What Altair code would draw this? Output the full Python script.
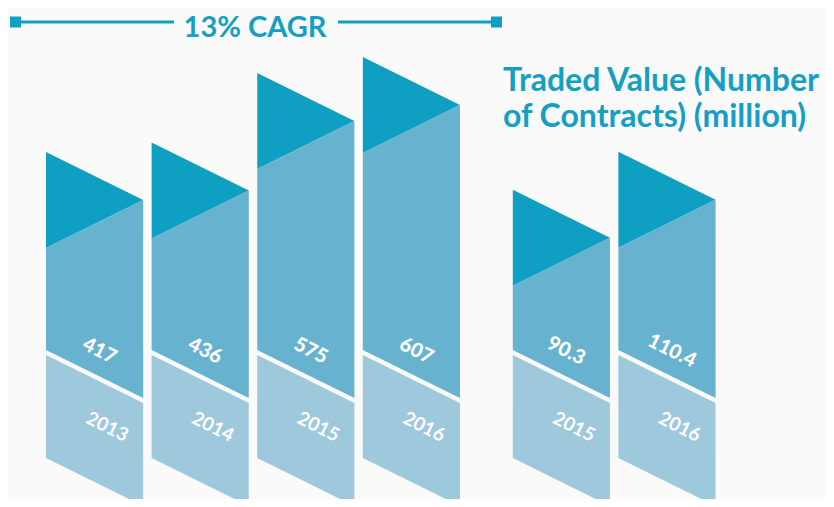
import altair as alt
import pandas as pd

# ---------------- data ----------------
trade_years = ["2013", "2014", "2015", "2016"]
trade_values = [417, 436, 575, 607]
contract_years = ["2015", "2016"]
contract_values = [90.3, 110.4]

cagr_text = "13% CAGR"
side_title = ["Traded Value (Number", "of Contracts) (million)"]

# ---------------- style ----------------
DARK = "#0e9fc2"
MID = "#67b2cf"
LIGHT = "#9ec8dc"
TEXT = "#149fc3"
BG = "#fafafa"
FONT = "Lato"

W, H = 818, 491
BASE_PX = 342          # baseline (plot px from top)
X_DOMAIN = [-0.36, 7.386]
BAR_W = 0.92           # bar width in slot units
SLANT, TRI, GAP, LIGHT_H = 48, 96, 5, 103   # px

x_scale = alt.Scale(domain=X_DOMAIN, nice=False, zero=False)


def y_domain(ppu, v0):
    return [v0 - (H - BASE_PX) / ppu, v0 + BASE_PX / ppu]


def build(years, values, slot0, ppu, v0, group):
    s, tri, gap, lh = SLANT / ppu, TRI / ppu, GAP / ppu, LIGHT_H / ppu
    rows, labels = [], []
    for i, (yr, v) in enumerate(zip(years, values)):
        xl = slot0 + i
        xr = xl + BAR_W
        bid = f"{group}-{yr}"
        rows += [
            dict(bar=bid, piece="tri", x=xl, y=v, y2=v - tri),
            dict(bar=bid, piece="tri", x=xr, y=v - s, y2=v - s),
            dict(bar=bid, piece="mid", x=xl, y=v - tri, y2=v0),
            dict(bar=bid, piece="mid", x=xr, y=v - s, y2=v0 - s),
            dict(bar=bid, piece="light", x=xl, y=v0 - gap, y2=v0 - gap - lh),
            dict(bar=bid, piece="light", x=xr, y=v0 - s - gap, y2=v0 - s - gap - lh),
        ]
        labels.append(dict(bar=bid, year=yr, value=f"{v:g}",
                           xv=xl + 0.55 * BAR_W, yv=v0 - 1 / ppu,
                           xy=xl + 0.63 * BAR_W, yy=v0 - 77 / ppu))
    return pd.DataFrame(rows), pd.DataFrame(labels)


def group_chart(years, values, slot0, ppu, v0, group):
    poly, lab = build(years, values, slot0, ppu, v0, group)
    ys = alt.Scale(domain=y_domain(ppu, v0), nice=False, zero=False)
    layers = []
    for piece, col in [("tri", DARK), ("mid", MID), ("light", LIGHT)]:
        layers.append(
            alt.Chart(poly[poly.piece == piece]).mark_area(color=col, opacity=1).encode(
                x=alt.X("x:Q", scale=x_scale, axis=None),
                y=alt.Y("y:Q", scale=ys, axis=None),
                y2="y2:Q",
                detail="bar:N",
            )
        )
    layers.append(
        alt.Chart(lab).mark_text(font=FONT, fontSize=20, fontWeight=900, color="white",
                                 angle=26.5, align="center", baseline="middle").encode(
            x=alt.X("xv:Q", scale=x_scale, axis=None),
            y=alt.Y("yv:Q", scale=ys, axis=None),
            text="value:N",
        )
    )
    layers.append(
        alt.Chart(lab).mark_text(font=FONT, fontSize=19, fontWeight="bold", color="white",
                                 angle=26.5, align="center", baseline="middle").encode(
            x=alt.X("xy:Q", scale=x_scale, axis=None),
            y=alt.Y("yy:Q", scale=ys, axis=None),
            text="year:N",
        )
    )
    return alt.layer(*layers)


g1 = group_chart(trade_years, trade_values, 0, 0.5, 21, "tv")
g2 = group_chart(contract_years, contract_values, 4.42, 1.89, 5.56, "nc")

anno_df = pd.DataFrame({"t": [cagr_text]})
cagr = alt.Chart(anno_df).mark_text(font=FONT, fontSize=29, fontWeight="bold", color=TEXT,
                                    align="center", baseline="alphabetic").encode(
    x=alt.value(247), y=alt.value(29), text="t:N")

line_l = alt.Chart(anno_df).mark_rule(color=DARK, strokeWidth=3).encode(
    x=alt.value(4), x2=alt.value(166), y=alt.value(14))
line_r = alt.Chart(anno_df).mark_rule(color=DARK, strokeWidth=3).encode(
    x=alt.value(330), x2=alt.value(492), y=alt.value(14))
sq_l = alt.Chart(anno_df).mark_square(color=DARK, size=121, opacity=1).encode(
    x=alt.value(7.5), y=alt.value(14))
sq_r = alt.Chart(anno_df).mark_square(color=DARK, size=121, opacity=1).encode(
    x=alt.value(488.5), y=alt.value(14))

side_layers = []
for txt, yb in zip(side_title, [83, 119]):
    side_layers.append(
        alt.Chart(pd.DataFrame({"t": [txt]})).mark_text(
            font=FONT, fontSize=32, fontWeight="bold", color=TEXT,
            align="left", baseline="alphabetic").encode(
            x=alt.value(495), y=alt.value(yb), text="t:N")
    )

chart = alt.layer(g1, g2, line_l, line_r, sq_l, sq_r, cagr, *side_layers).resolve_scale(
    y="independent"
).properties(
    width=W, height=H, background=BG, padding=0,
    autosize=alt.AutoSizeParams(type="none"),
).configure_view(stroke=None)

chart.save("out.html", embed_options={"renderer": "svg", "actions": False})
